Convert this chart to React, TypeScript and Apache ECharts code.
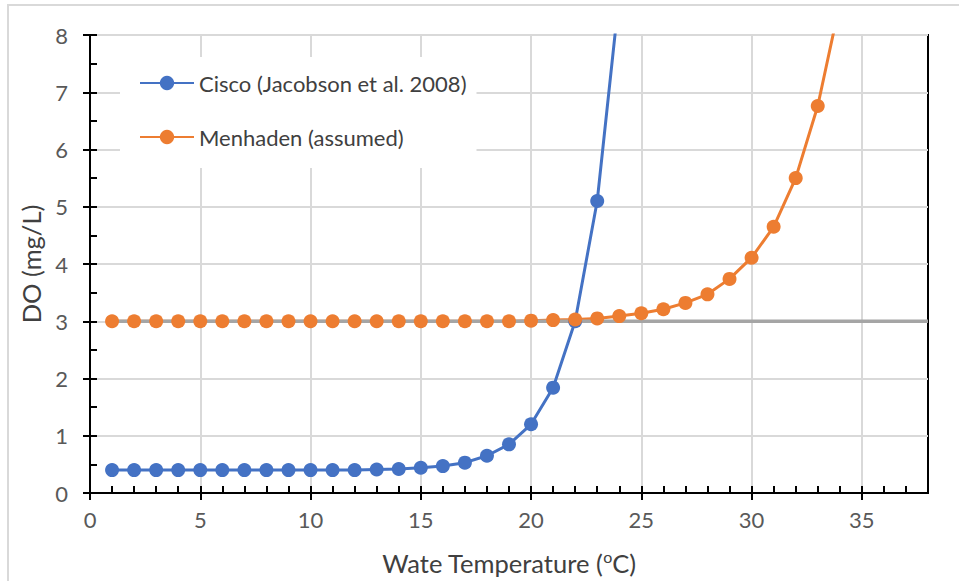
import React, { useEffect, useRef } from "react";
import * as echarts from "echarts";

const temps = [1, 2, 3, 4, 5, 6, 7, 8, 9, 10, 11, 12, 13, 14, 15, 16, 17, 18, 19, 20, 21, 22, 23, 24, 25, 26, 27, 28, 29, 30, 31, 32, 33, 34];
const ciscoDO = [0.4, 0.4, 0.4, 0.4, 0.4, 0.4, 0.4, 0.4, 0.4, 0.4, 0.4, 0.4, 0.41, 0.42, 0.44, 0.47, 0.53, 0.65, 0.85, 1.2, 1.84, 3.0, 5.1, 8.7];
const menhadenDO = [3.0, 3.0, 3.0, 3.0, 3.0, 3.0, 3.0, 3.0, 3.0, 3.0, 3.0, 3.0, 3.0, 3.0, 3.0, 3.0, 3.0, 3.0, 3.0, 3.01, 3.02, 3.03, 3.05, 3.09, 3.14, 3.21, 3.32, 3.47, 3.74, 4.11, 4.65, 5.5, 6.76, 8.55];
const thresholdX = [1, 38];
const thresholdDO = [3, 3];
const xTickLabels = [0, 5, 10, 15, 20, 25, 30, 35];
const seriesNames = ["Cisco (Jacobson et al. 2008)", "Menhaden (assumed)"];

const FONT = "Lato, 'Liberation Sans', sans-serif";

export default function App() {
  const ref = useRef<HTMLDivElement>(null);
  useEffect(() => {
    if (!ref.current) return;
    const chart = echarts.init(ref.current, null, { renderer: "svg" });
    const grid = { left: 90, right: 31, top: 35, bottom: 88, show: true, borderColor: "#000", borderWidth: 2, backgroundColor: "transparent" };
    chart.setOption({
      animation: false,
      backgroundColor: "#fff",
      textStyle: { fontFamily: FONT },
      graphic: [
        { type: "rect", shape: { x: 8, y: 5, width: 960, height: 600 }, style: { fill: "none", stroke: "#d9d9d9", lineWidth: 2 }, silent: true },
      ],
      grid,
      legend: {
        data: seriesNames,
        orient: "vertical",
        left: 120,
        top: 57,
        padding: [15, 10, 20, 19],
        backgroundColor: "#fff",
        itemWidth: 54,
        itemHeight: 18,
        itemGap: 32,
        textStyle: { fontFamily: FONT, fontSize: 22, color: "#404040" },
      },
      xAxis: [
        {
          type: "value",
          min: 0,
          max: 38,
          interval: 5,
          name: "Wate Temperature ({sup|o}C)",
          nameLocation: "middle",
          nameGap: 55,
          nameTextStyle: {
            fontFamily: FONT,
            fontSize: 25.5,
            color: "#404040",
            rich: { sup: { fontSize: 16, fontFamily: FONT, color: "#404040", padding: [0, 0, 14, 0] } },
          },
          axisLine: { show: true, onZero: false, lineStyle: { color: "#000", width: 2 } },
          axisTick: { show: true, inside: false, length: 7, lineStyle: { color: "#000", width: 2 }, customValues: xTickLabels },
          axisLabel: { show: true, margin: 15, fontSize: 22, color: "#595959", fontFamily: FONT, customValues: xTickLabels },
          splitLine: { show: true, lineStyle: { color: "#d9d9d9", width: 2 } },
        },
        {
          type: "value",
          min: 0,
          max: 38,
          interval: 1,
          position: "bottom",
          axisLine: { show: false, onZero: false },
          axisTick: { show: true, inside: true, length: 7, lineStyle: { color: "#000", width: 2 } },
          axisLabel: { show: false },
          splitLine: { show: false },
        },
      ],
      yAxis: [
        {
          type: "value",
          min: 0,
          max: 8,
          interval: 1,
          name: "DO (mg/L)",
          nameLocation: "middle",
          nameGap: 42,
          nameTextStyle: { fontFamily: FONT, fontSize: 25.5, color: "#404040" },
          axisLine: { show: true, onZero: false, lineStyle: { color: "#000", width: 2 } },
          axisTick: { show: true, inside: false, length: 7, lineStyle: { color: "#000", width: 2 } },
          axisLabel: { show: true, margin: 22, fontSize: 22, color: "#595959", fontFamily: FONT },
          splitLine: { show: true, lineStyle: { color: "#d9d9d9", width: 2 } },
        },
        {
          type: "value",
          min: 0,
          max: 8,
          interval: 0.5,
          position: "left",
          axisLine: { show: false, onZero: false },
          axisTick: { show: true, inside: true, length: 7, lineStyle: { color: "#000", width: 2 } },
          axisLabel: { show: false },
          splitLine: { show: false },
        },
      ],
      series: [
        {
          name: seriesNames[0],
          type: "line",
          data: ciscoDO.map((v, i) => [temps[i], v]),
          symbol: "circle",
          symbolSize: 14,
          lineStyle: { color: "#4472C4", width: 3 },
          itemStyle: { color: "#4472C4" },
          clip: true,
        },
        {
          name: seriesNames[1],
          type: "line",
          data: menhadenDO.map((v, i) => [temps[i], v]),
          symbol: "circle",
          symbolSize: 14,
          lineStyle: { color: "#ED7D31", width: 3 },
          itemStyle: { color: "#ED7D31" },
          clip: true,
        },
        {
          name: "threshold",
          type: "line",
          data: thresholdX.map((x, i) => [x, thresholdDO[i]]),
          symbol: "none",
          lineStyle: { color: "#A5A5A5", width: 3.5 },
          itemStyle: { color: "#A5A5A5" },
          z: 3,
        },
      ],
    });
    return () => chart.dispose();
  }, []);
  return <div ref={ref} style={{ position: "fixed", left: 0, top: 0, width: 959, height: 581 }} />;
}
